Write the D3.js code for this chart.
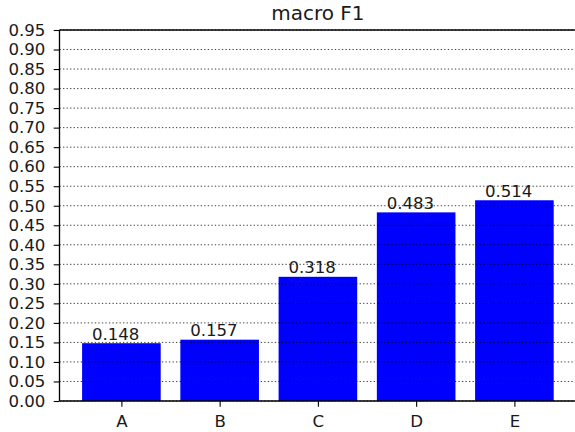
<!DOCTYPE html>
<html>
<head>
<meta charset="utf-8">
<script src="https://cdn.jsdelivr.net/npm/d3@7"></script>
<style>
  html, body { margin: 0; padding: 0; background: #fff; }
  svg { display: block; }
  text { font-family: "DejaVu Sans", sans-serif; fill: #1a1a1a; }
</style>
</head>
<body>
<svg id="chart" width="575" height="432"></svg>
<script>
const categories = ["A", "B", "C", "D", "E"];
const values = [0.148, 0.157, 0.318, 0.483, 0.514];
const valueLabels = ["0.148", "0.157", "0.318", "0.483", "0.514"];
const yTicks = [0.00, 0.05, 0.10, 0.15, 0.20, 0.25, 0.30, 0.35, 0.40, 0.45, 0.50,
                0.55, 0.60, 0.65, 0.70, 0.75, 0.80, 0.85, 0.90, 0.95];
const title = "macro F1";

(function () {
const svg = d3.select("#chart");
const pLeft = 59.5, pRight = 576.3, pTop = 30, pBottom = 401;
const x = d3.scaleLinear().domain([-0.63, 4.63]).range([pLeft, pRight]);
const y = d3.scaleLinear().domain([0, 0.95]).range([pBottom, pTop]);
const barW = x(0.4) - x(-0.4);

// bars
svg.append("g").selectAll("rect").data(values).join("rect")
  .attr("x", (d, i) => x(i - 0.4))
  .attr("y", d => y(d))
  .attr("width", barW)
  .attr("height", d => y(0) - y(d))
  .attr("fill", "#0000ff");

// grid (above bars)
svg.append("g").selectAll("line").data(yTicks).join("line")
  .attr("x1", pLeft).attr("x2", pRight)
  .attr("y1", d => y(d)).attr("y2", d => y(d))
  .attr("stroke", "#000").attr("stroke-width", 1)
  .attr("stroke-dasharray", "1.33,2.2")
  .attr("opacity", 0.75);

// y axis
const yAxis = d3.axisLeft(y).tickValues(yTicks).tickFormat(d3.format(".2f"))
  .tickSize(5.8).tickPadding(8.3);
const gy = svg.append("g").attr("transform", `translate(${pLeft},0)`).call(yAxis);
gy.select(".domain").remove();
gy.selectAll(".tick line").attr("stroke", "#000").attr("stroke-width", 1.1);
gy.selectAll(".tick text").style("font-size", "16.6px").style("font-family", "DejaVu Sans").attr("fill", "#1a1a1a");

// x axis
const xAxis = d3.axisBottom(x).tickValues(d3.range(categories.length))
  .tickFormat(i => categories[i]).tickSize(5.8).tickPadding(8.3);
const gx = svg.append("g").attr("transform", `translate(0,${pBottom})`).call(xAxis);
gx.select(".domain").remove();
gx.selectAll(".tick line").attr("stroke", "#000").attr("stroke-width", 1.1);
gx.selectAll(".tick text").style("font-size", "16.6px").style("font-family", "DejaVu Sans").attr("fill", "#1a1a1a");

// spines
const sp = svg.append("g").attr("stroke", "#000").attr("stroke-width", 1.33);
sp.append("line").attr("x1", pLeft).attr("x2", pLeft).attr("y1", pTop).attr("y2", pBottom);
sp.append("line").attr("x1", pLeft).attr("x2", pRight).attr("y1", pBottom).attr("y2", pBottom);
sp.append("line").attr("x1", pLeft).attr("x2", pRight).attr("y1", pTop).attr("y2", pTop);
sp.append("line").attr("x1", pRight).attr("x2", pRight).attr("y1", pTop).attr("y2", pBottom);

// value labels
svg.append("g").selectAll("text").data(values).join("text")
  .attr("x", (d, i) => x(i - 0.3))
  .attr("y", d => y(d) - 3.6)
  .attr("text-anchor", "start")
  .style("font-size", "16.6px")
  .text((d, i) => valueLabels[i]);

// title
svg.append("text")
  .attr("x", (pLeft + pRight) / 2)
  .attr("y", pTop - 10)
  .attr("text-anchor", "middle")
  .style("font-size", "20px")
  .text(title);
})();
</script>
</body>
</html>
